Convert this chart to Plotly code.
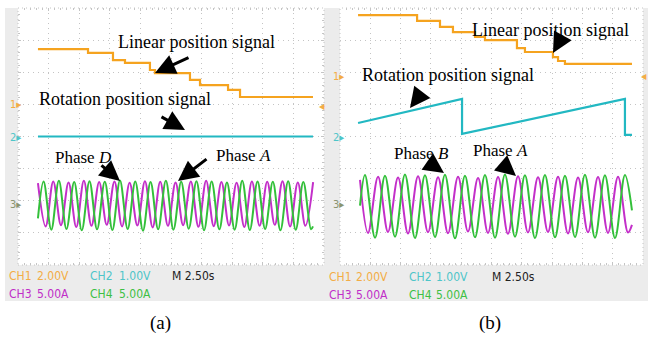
import plotly.graph_objects as go

W, H = 648, 338

# ---------------- data (time in s, amplitude in screen divisions) ----------------
# Panel (a)
A_LIN_T = [1.63, 5.72, 7.76, 8.74, 10.78, 11.19, 14.05, 14.87, 17.16, 18.14, 24.10]
A_LIN_V = [2.72, 2.60, 2.38, 2.29, 2.07, 1.97, 1.76, 1.60, 1.45, 1.23, 1.23]
A_ROT_T = [1.63, 24.10]
A_ROT_V = [0.0, 0.0]
A_PHA_T = [1.63, 2.26, 2.88, 3.51, 4.13, 4.76, 5.38, 6.00, 6.63, 7.25, 7.88, 8.50, 9.12,
           9.75, 10.37, 11.00, 11.62, 12.25, 12.87, 13.49, 14.12, 14.74, 15.37, 15.99,
           16.62, 17.24, 17.86, 18.49, 19.11, 19.74, 20.36, 20.98, 21.61, 22.23, 22.86,
           23.48, 24.11]
A_PHA_V = [-1.45, -2.80, -1.40, -2.76, -1.43, -2.82, -1.38, -2.78, -1.42, -2.75, -1.40,
           -2.80, -1.44, -2.77, -1.39, -2.83, -1.41, -2.78, -1.43, -2.76, -1.40, -2.81,
           -1.38, -2.79, -1.42, -2.77, -1.44, -2.82, -1.40, -2.78, -1.41, -2.75, -1.39,
           -2.80, -1.43, -2.78, -1.42]
A_PHD_T = [1.63, 2.09, 2.72, 3.34, 3.96, 4.59, 5.21, 5.84, 6.46, 7.09, 7.71, 8.33, 8.96,
           9.58, 10.21, 10.83, 11.45, 12.08, 12.70, 13.33, 13.95, 14.58, 15.20, 15.82,
           16.45, 17.07, 17.70, 18.32, 18.94, 19.57, 20.19, 20.82, 21.44, 22.07, 22.69,
           23.31, 23.94, 24.10]
A_PHD_V = [-2.55, -1.40, -2.90, -1.38, -2.88, -1.42, -2.92, -1.39, -2.89, -1.41, -2.91,
           -1.37, -2.88, -1.40, -2.93, -1.42, -2.89, -1.38, -2.90, -1.41, -2.87, -1.39,
           -2.92, -1.40, -2.89, -1.43, -2.90, -1.38, -2.91, -1.40, -2.88, -1.41, -2.92,
           -1.39, -2.90, -1.42, -2.89, -2.80]

# Panel (b)
B_LIN_T = [1.49, 6.36, 8.25, 9.32, 11.14, 11.96, 14.60, 15.26, 17.57, 17.99, 18.56, 24.09]
B_LIN_V = [3.78, 3.60, 3.41, 3.25, 3.10, 3.00, 2.75, 2.63, 2.47, 2.35, 2.26, 2.26]
B_ROT_T = [1.49, 10.07, 10.07, 23.51, 23.51, 24.09]
B_ROT_V = [0.42, 1.17, 0.08, 1.17, 0.05, 0.05]
B_PHA_T = [1.65, 2.31, 3.14, 3.96, 4.79, 5.61, 6.44, 7.26, 8.09, 8.91, 9.74, 10.56, 11.39,
           12.21, 13.04, 13.86, 14.69, 15.51, 16.34, 17.16, 17.99, 18.81, 19.64, 20.46,
           21.29, 22.11, 22.94, 23.76, 24.09]
B_PHA_V = [-1.35, -3.00, -1.25, -2.97, -1.28, -3.02, -1.24, -2.98, -1.27, -3.01, -1.25,
           -2.96, -1.29, -3.00, -1.26, -3.03, -1.24, -2.99, -1.27, -2.97, -1.25, -3.02,
           -1.28, -2.98, -1.26, -3.00, -1.25, -2.99, -2.75]
B_PHB_T = [1.65, 2.06, 2.89, 3.71, 4.54, 5.36, 6.19, 7.01, 7.84, 8.66, 9.49, 10.31, 11.14,
           11.96, 12.79, 13.61, 14.44, 15.26, 16.09, 16.91, 17.74, 18.56, 19.39, 20.21,
           21.04, 21.86, 22.69, 23.51, 24.09]
B_PHB_V = [-2.15, -1.20, -3.15, -1.22, -3.12, -1.18, -3.16, -1.21, -3.13, -1.19, -3.17,
           -1.22, -3.14, -1.20, -3.15, -1.18, -3.12, -1.21, -3.16, -1.20, -3.14, -1.22,
           -3.13, -1.19, -3.15, -1.21, -3.16, -1.20, -2.30]

SCALE_ROW1 = ["CH1", "2.00V", "CH2", "1.00V", "M 2.50s"]
SCALE_ROW2 = ["CH3", "5.00A", "CH4", "5.00A"]
CAPTIONS = ["(a)", "(b)"]

# ---------------- styling ----------------
C_OR = "#f5a31f"
C_CY = "#22b8c2"
C_MG = "#c32fc9"
C_GR = "#33c03a"
T_OR = "#f3ac45"
T_CY = "#4ec5c9"
T_MG = "#c02ec8"
T_GR = "#3dc044"
GRID = "#c4c4c4"
GRAY = "#ececec"

def PX(x):
    return x / W

def PY(y):
    return 1 - y / H

fig = go.Figure()

def add_panel(xa, ya, lin, rot, ph1, ph2):
    fig.add_trace(go.Scatter(x=lin[0], y=lin[1], mode="lines", line=dict(color=C_OR, width=2.2, shape="hv"),
                             xaxis=xa, yaxis=ya, showlegend=False, hoverinfo="skip"))
    fig.add_trace(go.Scatter(x=rot[0], y=rot[1], mode="lines", line=dict(color=C_CY, width=2.2),
                             xaxis=xa, yaxis=ya, showlegend=False, hoverinfo="skip"))
    fig.add_trace(go.Scatter(x=ph1[0], y=ph1[1], mode="lines", line=dict(color=C_MG, width=2, shape="spline", smoothing=1),
                             xaxis=xa, yaxis=ya, showlegend=False, hoverinfo="skip"))
    fig.add_trace(go.Scatter(x=ph2[0], y=ph2[1], mode="lines", line=dict(color=C_GR, width=2, shape="spline", smoothing=1),
                             xaxis=xa, yaxis=ya, showlegend=False, hoverinfo="skip"))

add_panel("x", "y", (A_LIN_T, A_LIN_V), (A_ROT_T, A_ROT_V), (A_PHA_T, A_PHA_V), (A_PHD_T, A_PHD_V))
add_panel("x2", "y2", (B_LIN_T, B_LIN_V), (B_ROT_T, B_ROT_V), (B_PHA_T, B_PHA_V), (B_PHB_T, B_PHB_V))

# plot areas in px: (left, right, top, bottom)
PLOT_A = (18, 324, 8, 265)
PLOT_B = (340, 643, 8, 265)

def axis_x(dom):
    return dict(domain=[PX(dom[0]), PX(dom[1])], range=[0, 25], dtick=2.5, showticklabels=False,
                showgrid=True, gridcolor=GRID, griddash="1px,4px", gridwidth=1, zeroline=False,
                ticks="inside", ticklen=3, tickcolor=GRID, mirror="ticks",
                minor=dict(ticks="inside", ticklen=2, dtick=0.5, tickcolor=GRID, showgrid=False),
                fixedrange=True)

def axis_y(dom):
    return dict(domain=[PY(dom[3]), PY(dom[2])], range=[-4, 4], dtick=1, showticklabels=False,
                showgrid=True, gridcolor=GRID, griddash="1px,4px", gridwidth=1, zeroline=False,
                ticks="inside", ticklen=3, tickcolor=GRID, mirror="ticks",
                minor=dict(ticks="inside", ticklen=2, dtick=0.2, tickcolor=GRID, showgrid=False),
                fixedrange=True)

shapes = [
    dict(type="rect", xref="paper", yref="paper", x0=PX(5), x1=PX(648), y0=PY(301), y1=PY(8),
         fillcolor=GRAY, line=dict(width=0), layer="below"),
]
for (l, r, t, b) in (PLOT_A, PLOT_B):
    shapes.append(dict(type="rect", xref="paper", yref="paper", x0=PX(l), x1=PX(r), y0=PY(b), y1=PY(t),
                       fillcolor="white", line=dict(color=GRID, width=1, dash="1px,3px"), layer="below"))

ann = []
SERIF = "Liberation Serif, Times New Roman, serif"
NARROW = "DejaVu Sans Condensed, Liberation Sans Narrow, Arial Narrow, Liberation Sans, sans-serif"

def text(x, y, s, size=17, color="black", family=SERIF, xanchor="center"):
    ann.append(dict(x=PX(x), y=PY(y), xref="paper", yref="paper", text=s, showarrow=False,
                    font=dict(family=family, size=size, color=color), xanchor=xanchor, yanchor="middle"))

def arrow(hx, hy, tx, ty):
    ann.append(dict(x=PX(hx), y=PY(hy), xref="paper", yref="paper", text="", showarrow=True,
                    ax=tx - hx, ay=ty - hy, arrowhead=2, arrowsize=1.35, arrowwidth=3,
                    arrowcolor="black", standoff=0, startstandoff=0))

# labels panel (a)
text(196, 42, "Linear position signal", size=18)
text(125, 99, "Rotation position signal", size=18)
text(83, 157, "Phase <i>D</i>")
text(243, 155, "Phase <i>A</i>")
arrow(155, 73, 190, 57)
arrow(185, 130, 160, 116)
arrow(120, 181, 100, 164)
arrow(178, 181, 208, 158)
# labels panel (b)
text(550, 30, "Linear position signal", size=18)
text(448, 75, "Rotation position signal", size=18)
text(421, 153, "Phase <i>B</i>")
text(500, 150, "Phase <i>A</i>")
arrow(553, 53, 563, 35)
arrow(410, 108, 423, 91)
arrow(444, 173, 428, 162)
arrow(516, 176, 502, 164)

# channel markers
for (x0, y1) in ((8, 105), (331, 76)):
    text(x0, y1, "1▸", size=11, color=T_OR, family=NARROW, xanchor="left")
for x0 in (8, 331):
    text(x0, 137, "2▸", size=11, color=T_CY, family=NARROW, xanchor="left")
    text(x0, 204, "3▸", size=11, color="#8a9470", family=NARROW, xanchor="left")
text(322, 106, "◂", size=12, color=T_OR, family=NARROW)
text(644, 76, "◂", size=12, color=T_OR, family=NARROW)

# scale readouts
for (xs, y1, y2) in (((7, 35, 88, 117, 170), 276, 294), ((327, 354, 407, 434, 490), 277, 295)):
    cols1 = [T_OR, T_OR, T_CY, T_CY, "#222222"]
    cols2 = [T_MG, T_MG, T_GR, T_GR]
    for s, x0, c in zip(SCALE_ROW1, xs, cols1):
        text(x0, y1, s, size=12, color=c, family=NARROW, xanchor="left")
    for s, x0, c in zip(SCALE_ROW2, xs, cols2):
        text(x0, y2, s, size=12, color=c, family=NARROW, xanchor="left")

# captions
text(160, 323, CAPTIONS[0], size=19)
text(490, 323, CAPTIONS[1], size=19)

fig.update_layout(
    width=W, height=H, margin=dict(l=0, r=0, t=0, b=0),
    paper_bgcolor="white", plot_bgcolor="rgba(0,0,0,0)",
    xaxis=axis_x(PLOT_A), yaxis=axis_y(PLOT_A),
    xaxis2=axis_x(PLOT_B), yaxis2=axis_y(PLOT_B),
    shapes=shapes, annotations=ann, showlegend=False,
)
fig.write_html("out.html")
